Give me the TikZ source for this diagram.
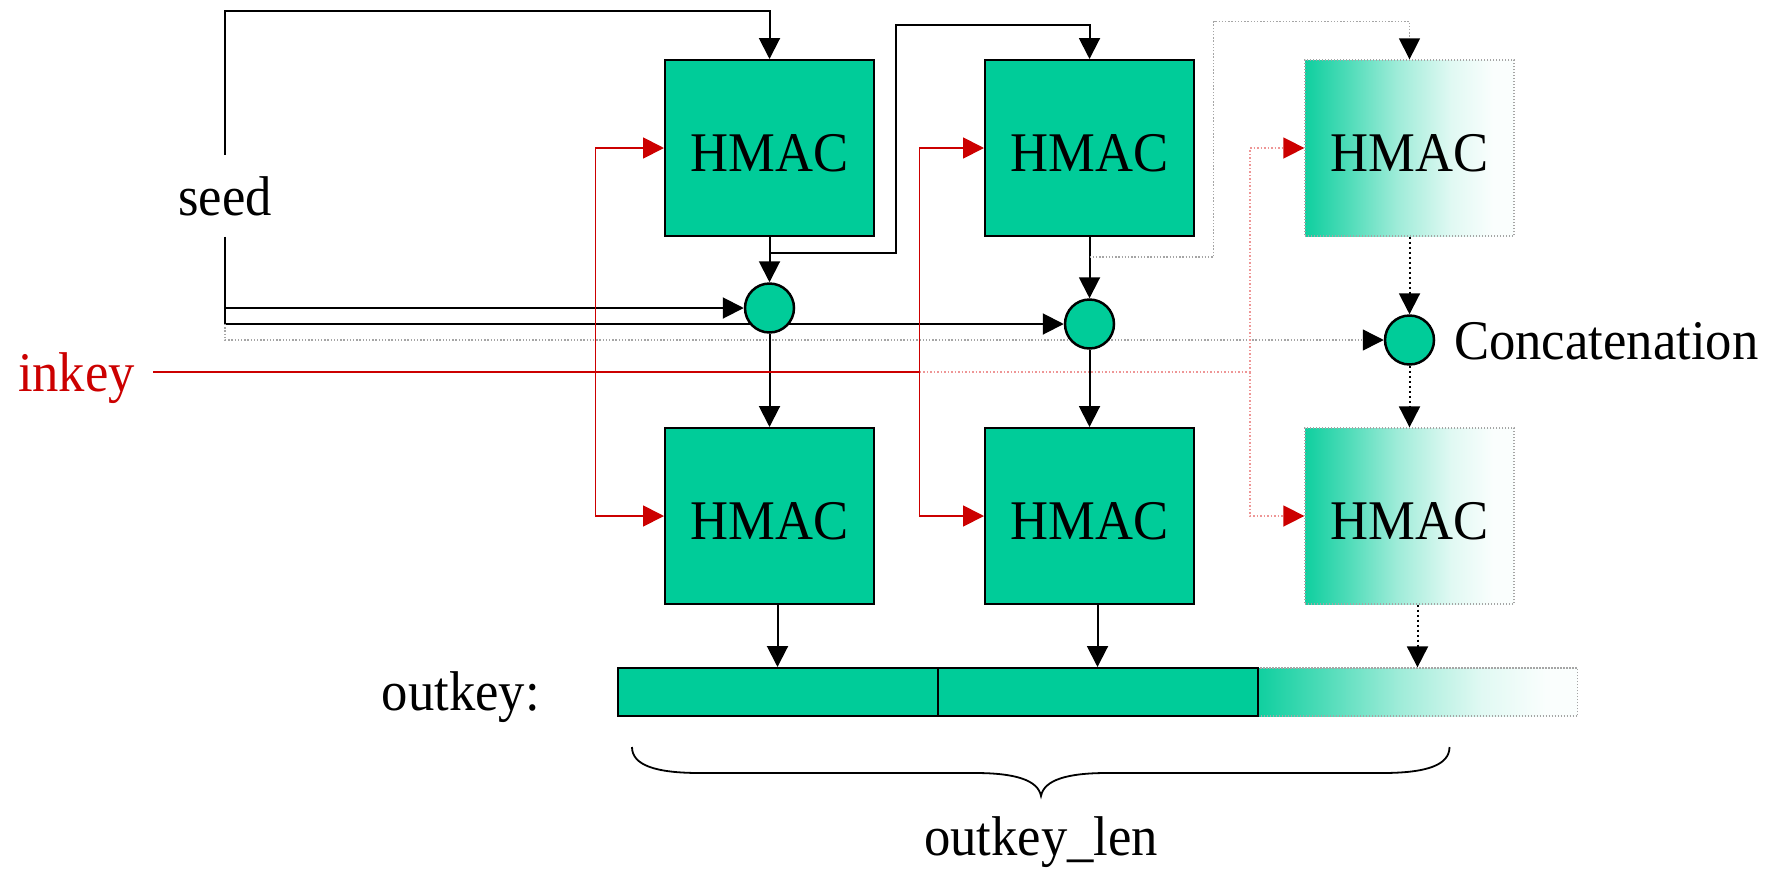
\documentclass[tikz,border=0pt]{standalone}
\usepackage{fontspec}
\setmainfont{Liberation Serif}[FakeStretch=0.94]
\usetikzlibrary{arrows.meta,calc,backgrounds}
\definecolor{hgreen}{RGB}{0,204,153}
\definecolor{hred}{RGB}{204,0,0}
\definecolor{pinkdot}{RGB}{238,150,150}
\definecolor{greydot}{RGB}{165,165,165}
\colorlet{fgA}{hgreen!94!white}
\colorlet{fgB}{hgreen!70!white}
\colorlet{fgC}{hgreen!38!white}
\colorlet{fgD}{hgreen!12!white}
\colorlet{fgE}{hgreen!2!white}
\pgfdeclarehorizontalshading{fadegreen}{100bp}{color(0bp)=(fgA); color(25bp)=(fgA); color(35bp)=(fgB); color(47bp)=(fgC); color(60bp)=(fgD); color(70bp)=(fgE); color(100bp)=(fgE)}
\begin{document}
\begin{tikzpicture}[x=1pt,y=-1pt,
  every node/.style={font=\fontsize{56}{60}\selectfont},
  hbox/.style={draw=black, line width=2pt, fill=hgreen, minimum width=209pt, minimum height=176pt, inner sep=0pt, text height=47pt, text depth=0pt},
  fadebox/.style={draw=greydot, line width=1.3pt, dash pattern=on 1.3pt off 1.7pt, shading=fadegreen, minimum width=209pt, minimum height=176pt, inner sep=0pt, text height=47pt, text depth=0pt},
  joint/.style={circle, draw=black, line width=2.5pt, fill=hgreen, minimum size=49pt, inner sep=0pt},
  seg/.style={draw=black, line width=2pt, fill=hgreen, minimum width=320pt, minimum height=48pt, inner sep=0pt},
  fadeseg/.style={draw=greydot, line width=1.3pt, dash pattern=on 1.3pt off 1.7pt, shading=fadegreen, minimum width=320pt, minimum height=48pt, inner sep=0pt},
  ahead/.style={-{Triangle[length=21pt,width=21pt,color=black]}},
  rhead/.style={-{Triangle[length=21pt,width=21pt,color=hred]}},
  wire/.style={draw=black, line width=2pt},
  gwire/.style={draw=greydot, line width=1.4pt, dash pattern=on 1.4pt off 1.8pt},
  kwire/.style={draw=black, line width=2pt, dash pattern=on 2.5pt off 2.5pt},
  rwirethick/.style={draw=hred, line width=2.8pt},
  rwire/.style={draw=hred, line width=1.8pt},
  rdwire/.style={draw=pinkdot, line width=1.5pt, dash pattern=on 1.5pt off 2pt}
]
\useasboundingbox (0,0) rectangle (1785,868);

% blocks
\node[hbox] (h1) at (769.5,148) {HMAC};
\node[hbox] (h2) at (1089.5,148) {HMAC};
\node[fadebox] (h3) at (1409.5,148) {HMAC};
\node[hbox] (b1) at (769.5,516) {HMAC};
\node[hbox] (b2) at (1089.5,516) {HMAC};
\node[fadebox] (b3) at (1409.5,516) {HMAC};
\node[joint] (c1) at (769.5,308) {};
\node[joint] (c2) at (1089.5,324) {};
\node[joint] (c3) at (1409.5,340) {};
\node[fadeseg] (o3) at (1417.5,692) {};
\node[seg] (o1) at (777.5,692) {};
\node[seg] (o2) at (1097.5,692) {};

% labels
\node[anchor=base, inner sep=21pt] (seed) at (225,215) {seed};
\node[anchor=base, text=hred, inner sep=18pt] (inkey) at (76.5,391) {inkey};
\node[anchor=base west, inner sep=0pt] (cat) at (1454,359) {Concatenation};
\node[anchor=base east, inner sep=0pt] (okl) at (540,710) {outkey:};
\node[anchor=base, inner sep=0pt] (olen) at (1041,855) {outkey\_len};

\coordinate (j1) at (595.5,372);
\coordinate (j2) at (919.5,372);
\coordinate (j3) at (1250,372);

% brace
\draw[line width=1.8pt] (632,747) .. controls (632,765) and (655,773) .. (700,773) -- (975,773) .. controls (1015,773) and (1038,780) .. (1041,796) .. controls (1044,780) and (1067,773) .. (1107,773) -- (1382,773) .. controls (1427,773) and (1449.5,765) .. (1449.5,747);

\begin{scope}[on background layer]
\fill[white] (0,0) rectangle (1785,868);
% seed
\draw[wire, ahead] (seed.north) |- ([yshift=48pt]h1.north) -- (h1.north);
\draw[wire, ahead] (seed.south) |- (c1.west);
\draw[wire, ahead] (seed.south) |- (c2.west);
\draw[gwire, ahead] (seed.south |- c2.west) |- (c3.west);
% chain
\draw[wire, ahead] (h1.south) -- (c1.north);
\draw[wire, ahead] ([yshift=-16pt]h1.south) -- ++(126,0) |- ([yshift=34pt]h2.north) -- (h2.north);
\draw[wire, ahead] (c1.south) -- (b1.north);
\draw[wire, ahead] (h2.south) -- (c2.north);
\draw[gwire, ahead] ([yshift=-20pt]h2.south) -- ++(124,0) |- ([yshift=38pt]h3.north) -- (h3.north);
\draw[wire, ahead] (c2.south) -- (b2.north);
\draw[kwire, ahead] (h3.south) -- (c3.north);
\draw[kwire, ahead] (c3.south) -- (b3.north);
% outputs
\draw[wire, ahead] (o1.north |- b1.south) -- (o1.north);
\draw[wire, ahead] (o2.north |- b2.south) -- (o2.north);
\draw[kwire, ahead] (o3.north |- b3.south) -- (o3.north);
% inkey
\draw[rwirethick] (inkey.east |- j1) -- (j2);
\draw[rdwire] (j2) -- (j3);
\draw[rwire, rhead] (j1) |- (h1.west);
\draw[rwire, rhead] (j1) |- (b1.west);
\draw[rwire, rhead] (j2) |- (h2.west);
\draw[rwire, rhead] (j2) |- (b2.west);
\draw[rdwire, rhead] (j3) |- (h3.west);
\draw[rdwire, rhead] (j3) |- (b3.west);
\end{scope}
\end{tikzpicture}
\end{document}
